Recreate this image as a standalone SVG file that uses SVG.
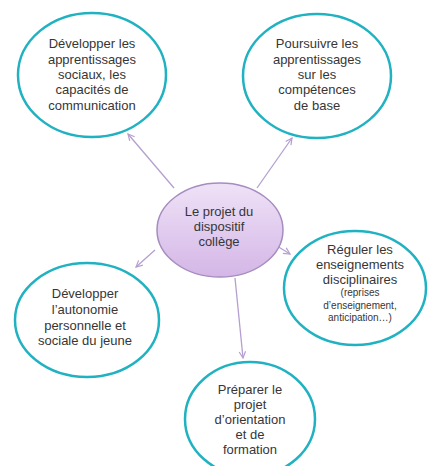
<svg xmlns="http://www.w3.org/2000/svg" width="430" height="466" viewBox="0 0 430 466">
<style>
.goal{fill:#ffffff;stroke:#21b2c2;stroke-width:2.5}
.t{font-family:"Liberation Sans",Arial,sans-serif;font-size:13px;fill:#363636;text-anchor:middle}
.s{font-size:10px}
.conn{stroke:#b59fd0;stroke-width:1.3;fill:none;marker-end:url(#ah)}
</style>
<defs>
<linearGradient id="cg" x1="0" y1="0" x2="0" y2="1">
<stop offset="0" stop-color="#efe2f7"/>
<stop offset="1" stop-color="#d4b6e6"/>
</linearGradient>
<marker id="ah" viewBox="0 0 10 10" refX="9" refY="5" markerWidth="8" markerHeight="8" markerUnits="userSpaceOnUse" orient="auto">
<polyline points="1,1 9,5 1,9" fill="none" stroke="#b59fd0" stroke-width="1.5"/>
</marker>
</defs>
<rect width="430" height="466" fill="#ffffff"/>
<g id="connectors">
<line class="conn" x1="174" y1="188" x2="128" y2="134"/>
<line class="conn" x1="257" y1="188" x2="292" y2="138"/>
<line class="conn" x1="277" y1="246" x2="290" y2="254"/>
<line class="conn" x1="155" y1="250" x2="136" y2="267"/>
<line class="conn" x1="235" y1="278" x2="243" y2="358"/>
</g>
<g id="n-social">
<ellipse class="goal" cx="92" cy="75" rx="74" ry="62"/>
<text class="t" x="92" y="48">Développer les</text>
<text class="t" x="92" y="64">apprentissages</text>
<text class="t" x="92" y="79">sociaux, les</text>
<text class="t" x="92" y="94">capacités de</text>
<text class="t" x="92" y="110">communication</text>
</g>
<g id="n-base">
<ellipse class="goal" cx="317" cy="76" rx="74" ry="62"/>
<text class="t" x="317" y="48">Poursuivre les</text>
<text class="t" x="317" y="64">apprentissages</text>
<text class="t" x="317" y="79">sur les</text>
<text class="t" x="317" y="94">compétences</text>
<text class="t" x="317" y="110">de base</text>
</g>
<g id="n-center">
<ellipse cx="220" cy="230" rx="63" ry="47" fill="url(#cg)" stroke="#a58dbf" stroke-width="1.5"/>
<text class="t" x="219" y="216">Le projet du</text>
<text class="t" x="219" y="231">dispositif</text>
<text class="t" x="219" y="246">collège</text>
</g>
<g id="n-reguler">
<ellipse class="goal" cx="355" cy="288" rx="71" ry="57"/>
<text class="t" x="360" y="254">Réguler les</text>
<text class="t" x="360" y="269">enseignements</text>
<text class="t" x="360" y="284">disciplinaires</text>
<text class="t s" x="360" y="296">(reprises</text>
<text class="t s" x="360" y="309">d’enseignement,</text>
<text class="t s" x="360" y="321">anticipation…)</text>
</g>
<g id="n-autonomie">
<ellipse class="goal" cx="87" cy="320" rx="72" ry="57"/>
<text class="t" x="85" y="298">Développer</text>
<text class="t" x="85" y="314">l’autonomie</text>
<text class="t" x="85" y="330">personnelle et</text>
<text class="t" x="85" y="345">sociale du jeune</text>
</g>
<g id="n-orientation">
<ellipse class="goal" cx="250" cy="419" rx="65" ry="57"/>
<text class="t" x="250" y="394">Préparer le</text>
<text class="t" x="250" y="409">projet</text>
<text class="t" x="250" y="424">d’orientation</text>
<text class="t" x="250" y="439">et de</text>
<text class="t" x="250" y="454">formation</text>
</g>
</svg>
